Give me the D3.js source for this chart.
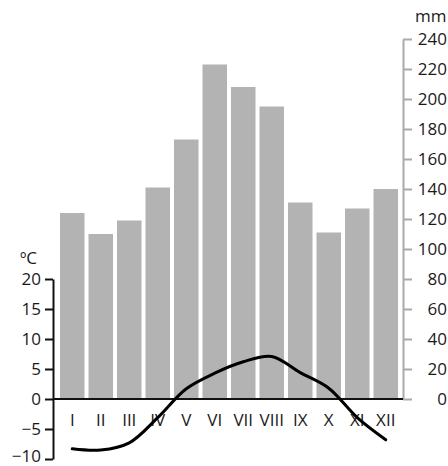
<!DOCTYPE html>
<html>
<head>
<meta charset="utf-8">
<script src="https://cdn.jsdelivr.net/npm/d3@7"></script>
<style>
  html, body { margin: 0; padding: 0; background: #fff; }
  svg { display: block; font-family: "Open Sans", "DejaVu Sans", sans-serif; }
</style>
</head>
<body>
<svg id="chart" width="448" height="466"></svg>
<script>
const months = ["I","II","III","IV","V","VI","VII","VIII","IX","X","XI","XII"];
const precipitation = [124, 110, 119, 141, 173, 223, 208, 195, 131, 111, 127, 140];
const temperature = [-8.3, -8.5, -7.3, -3.1, 1.7, 4.3, 6.2, 7.1, 4.4, 1.8, -3.1, -6.8];
const tempTicks = [-10, -5, 0, 5, 10, 15, 20];
const precipTicks = [0, 20, 40, 60, 80, 100, 120, 140, 160, 180, 200, 220, 240];

const FS = 17;
const svg = d3.select("#chart");

const x = d3.scaleBand().domain(months).range([60, 398]).paddingInner(0.14).paddingOuter(0);
const yP = d3.scaleLinear().domain([0, 240]).range([399, 39]);
const yT = d3.scaleLinear().domain([-10, 20]).range([459, 279]);

// bars
svg.append("g").selectAll("rect")
  .data(precipitation)
  .join("rect")
  .attr("x", (d, i) => x(months[i]))
  .attr("y", d => yP(d))
  .attr("width", x.bandwidth())
  .attr("height", d => yP(0) - yP(d))
  .attr("fill", "#b3b3b3");

// right axis (precipitation)
const rAxis = svg.append("g")
  .attr("transform", "translate(403,0)")
  .call(d3.axisRight(yP).tickValues(precipTicks).tickSize(9).tickSizeOuter(0).tickPadding(6));
rAxis.select(".domain").attr("stroke", "#aaaaaa").attr("stroke-width", 2);
rAxis.selectAll(".tick line").attr("stroke", "#aaaaaa").attr("stroke-width", 2);
rAxis.selectAll(".tick text")
  .attr("x", 44).attr("text-anchor", "end")
  .attr("font-size", FS).attr("fill", "#1a1a1a")
  .style("font-family", "'Open Sans', sans-serif");

// left axis (temperature)
const lAxis = svg.append("g")
  .attr("transform", "translate(53,0)")
  .call(d3.axisLeft(yT).tickValues(tempTicks).tickSize(8).tickSizeOuter(0).tickPadding(4));
lAxis.select(".domain").attr("stroke", "#111").attr("stroke-width", 2);
lAxis.selectAll(".tick line").attr("stroke", "#111").attr("stroke-width", 2);
lAxis.selectAll(".tick text")
  .attr("font-size", FS).attr("fill", "#1a1a1a")
  .attr("dy", d => d === -10 ? "0.15em" : "0.3em")
  .style("font-family", "'Open Sans', sans-serif");

// zero line
svg.append("line")
  .attr("x1", 53).attr("x2", 403)
  .attr("y1", yT(0)).attr("y2", yT(0))
  .attr("stroke", "#111").attr("stroke-width", 2);

// month labels
const mAxis = svg.append("g")
  .attr("transform", "translate(0,414)")
  .call(d3.axisBottom(x).tickSize(0).tickPadding(0));
mAxis.select(".domain").remove();
mAxis.selectAll(".tick text")
  .attr("font-size", FS).attr("fill", "#1a1a1a")
  .attr("dy", "0.71em")
  .style("font-family", "'Open Sans', sans-serif");

// temperature line
const line = d3.line()
  .x((d, i) => x(months[i]) + x.bandwidth() / 2)
  .y(d => yT(d))
  .curve(d3.curveCatmullRom.alpha(0.5));
svg.append("path")
  .datum(temperature)
  .attr("d", line)
  .attr("fill", "none")
  .attr("stroke", "#000")
  .attr("stroke-width", 3)
  .attr("stroke-linecap", "round");

// unit labels
svg.append("text").attr("x", 20).attr("y", 264).attr("font-size", FS).attr("fill", "#1a1a1a").text("ºC");
svg.append("text").attr("x", 415).attr("y", 22).attr("font-size", FS).attr("fill", "#1a1a1a").text("mm");
</script>
</body>
</html>
